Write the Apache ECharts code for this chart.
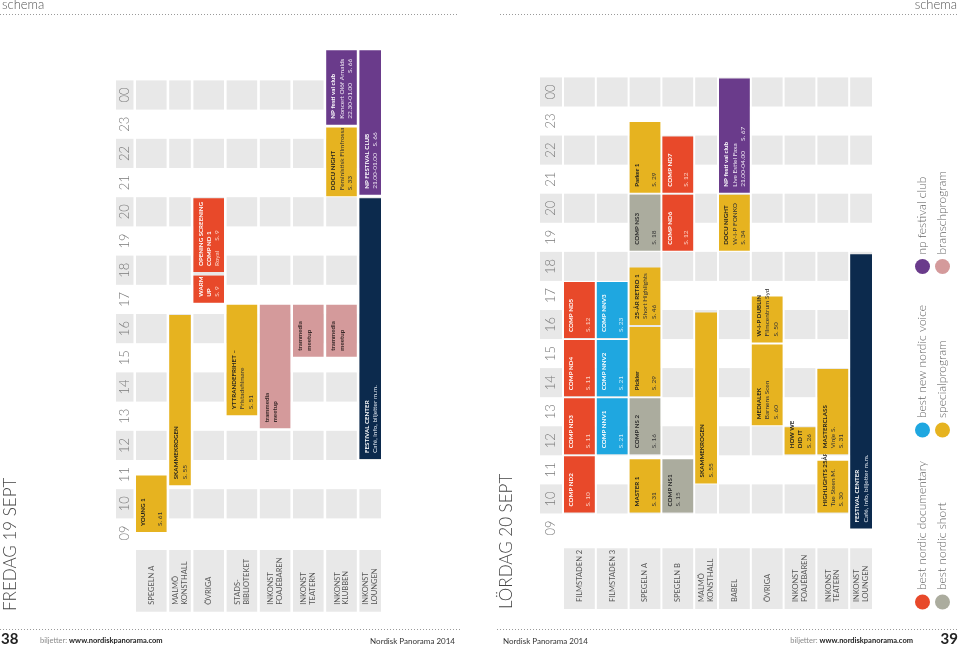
<!DOCTYPE html>
<html><head><meta charset="utf-8">
<script src="https://cdn.jsdelivr.net/npm/echarts@6/dist/echarts.min.js"></script>
<style>html,body{margin:0;padding:0;background:#fff}#c{width:959px;height:646px}</style>
</head><body><div id="c"></div>
<script>
// ---------- DATA ----------
const HOURS = ['09','10','11','12','13','14','15','16','17','18','19','20','21','22','23','00'];
const FRI_TITLE = 'FREDAG 19 SEPT';
const SAT_TITLE = 'LÖRDAG 20 SEPT';
const FRI_VENUES = ['SPEGELN A','MALMÖ\nKONSTHALL','ÖVRIGA','STADS-\nBIBLIOTEKET','INKONST\nFOAJÉBAREN','INKONST\nTEATERN','INKONST\nKLUBBEN','INKONST\nLOUNGEN'];
const SAT_VENUES = ['FILMSTADEN 2','FILMSTADEN 3','SPEGELN A','SPEGELN B','MALMÖ\nKONSTHALL','BABEL','ÖVRIGA','INKONST\nFOAJÉBAREN','INKONST\nTEATERN','INKONST\nLOUNGEN'];
// [venue index, start hour, end hour, programme, title, details]
const FRI_EVENTS = [
  [0, 9.5, 11.5, 'special', 'YOUNG 1', '\nS. 61'],
  [1, 11.1, 17.0, 'special', 'SKAMMEKROGEN', 'S. 55'],
  [2, 17.35, 18.35, 'doc', 'WARM\nUP', 'S. 9'],
  [2, 18.4, 21.0, 'doc', 'OPENING SCREENING\nCOMP ND 1', 'Royal      S. 9'],
  [3, 13.5, 17.35, 'special', 'YTTRANDEFRIHET –', 'Fristadsfilmare\nS. 51'],
  [4, 13.05, 17.35, 'bransch', 'trammedia\nmeetup', ''],
  [5, 15.5, 17.35, 'bransch', 'trammedia\nmeetup', ''],
  [6, 15.5, 17.35, 'bransch', 'trammedia\nmeetup', ''],
  [6, 21.0, 23.42, 'special', 'DOCU NIGHT', 'Feministisk Filmfrossa\nS. 33'],
  [6, 23.45, 26.07, 'club', 'NP festi val club', 'Koncert Olöf Arnalds\n22.30-01.00      S. 66'],
  [7, 12.0, 21.0, 'center', 'FESTIVAL CENTER', 'Café, info, biljetter m.m.'],
  [7, 21.05, 26.07, 'club', 'NP FESTIVAL CLUB', '21.00-01.00    S. 66']
];
const SAT_EVENTS = [
  [0, 10, 12, 'doc', 'COMP ND2', '\nS. 10'],
  [0, 12, 14, 'doc', 'COMP ND3', '\nS. 11'],
  [0, 14, 16, 'doc', 'COMP ND4', '\nS. 11'],
  [0, 16, 18, 'doc', 'COMP ND5', '\nS. 12'],
  [1, 12, 14, 'nnv', 'COMP NNV1', '\nS. 21'],
  [1, 14, 16, 'nnv', 'COMP NNV2', '\nS. 21'],
  [1, 16, 18, 'nnv', 'COMP NNV3', '\nS. 23'],
  [2, 10, 11.9, 'special', 'MASTER 1', '\nS. 31'],
  [2, 12, 14, 'short', 'COMP NS 2', '\nS. 16'],
  [2, 14, 16.45, 'special', 'Pickler', '\nS. 29'],
  [2, 16.45, 18.5, 'special', '25-ÅR RETRO 1', 'Short Highlights\nS. 46'],
  [2, 19, 21, 'short', 'COMP NS3', '\nS. 18'],
  [2, 21, 23.5, 'special', 'Parker 1', '\nS. 29'],
  [3, 10, 11.9, 'short', 'COMP NS1', 'S. 15'],
  [3, 19, 21, 'doc', 'COMP ND6', '\nS. 12'],
  [3, 21, 23, 'doc', 'COMP ND7', '\nS. 12'],
  [4, 11, 16.95, 'special', 'SKAMMEKROGEN', 'S. 55'],
  [5, 19, 21, 'special', 'DOCU NIGHT', 'W-I-P FONKO\nS. 34'],
  [5, 21, 25, 'club', 'NP festi val club', 'Live Estiel Faxa\n21.00-04.00      S. 67'],
  [6, 13, 15.85, 'special', 'MEDIALEK', 'Barnens Scen\nS. 60'],
  [6, 15.85, 17.5, 'special', 'W-I-P DUBLIN', 'Filmcentrum Syd\nS. 50'],
  [7, 12, 13, 'special', 'HOW WE\nDID IT', 'S. 26'],
  [8, 10, 11.85, 'special', 'HIGHLIGHTS 25ÅR', 'Tue Steen M.\nS. 30'],
  [8, 12, 15, 'special', 'MASTERCLASS', 'Vinje S.\nS. 31'],
  [9, 9.45, 18.95, 'center', 'FESTIVAL CENTER', 'Café, info, biljetter m.m.']
];
const LEGEND_NAMES = ['best nordic documentary','best nordic short','best new nordic voice','specialprogram','np festival club','branschprogram'];
const LEGEND_TYPES = ['doc','short','nnv','special','club','bransch'];

// ---------- STYLE / LAYOUT ----------
const STYLE = {
  doc:     {fill:'#e8492a', title:'#ffffff', text:'#fbd3c6'},
  short:   {fill:'#abac9e', title:'#2b2b2b', text:'#3a3a3a'},
  nnv:     {fill:'#1fa7e0', title:'#ffffff', text:'#d2eefa'},
  special: {fill:'#e6b320', title:'#1e1e1e', text:'#333333'},
  club:    {fill:'#6a3b8b', title:'#ffffff', text:'#eee6f3'},
  bransch: {fill:'#d49a9b', title:'#3a2a2a', text:'#3a2a2a'},
  center:  {fill:'#0c2a4d', title:'#ffffff', text:'#dfe6ef'}
};
const CELL = '#e8e8e8';
const FONT = 'Lato';
const EV_PAD_X = 3, EV_PAD_Y = 6, EV_LH = 8.4, EV_FS_B = 6.2, EV_FS = 6.5;
const FRI_LAYOUT = {timeW:17.5, gapT:2.5, gap:2.6, widths:[30.6,21.6,30.6,30.6,30.6,30.6,30.6,21.6], cellT:[6.8, 8.92]};
const SAT_LAYOUT = {timeW:22, gapT:2, gap:2, widths:[30.8,30.8,30.8,30.8,21.8,30.8,30.8,30.8,30.8,21.8], cellT:[6.71, 8.8]};

function colRange(L, i) {
  if (i < 0) return [0, L.timeW];
  let x = L.timeW + L.gapT;
  for (let k = 0; k < i; k++) x += L.widths[k] + L.gap;
  return [x, x + L.widths[i]];
}
function vtext(x, y, text, o) {
  return {type:'text', x:x, y:y, rotation:Math.PI/2, silent:true,
    style:Object.assign({text:text, fontFamily:FONT, align:'left', verticalAlign:'top'}, o)};
}

function bgData(venues) {
  const d = [];
  for (let c = -1; c < venues.length; c++)
    for (let h = 1; h < HOURS.length; h += 2) d.push([c, h]);
  return d;
}
function bgRender(L) {
  return function (p, api) {
    const xr = colRange(L, api.value(0));
    const h = api.value(1);
    const a = api.coord([xr[0], 9 + h + 1]);
    const b = api.coord([xr[1], 9 + h]);
    return {type:'rect', silent:true, shape:{x:a[0], y:a[1], width:b[0]-a[0], height:b[1]-a[1]}, style:{fill:CELL}};
  };
}
function hourRender(L) {
  return function (p, api) {
    const i = api.value(0);
    const c = api.coord([L.timeW / 2, 9.5 + i]);
    return vtext(c[0], c[1], HOURS[i], {fill:'#7a7a7a', fontSize:13, fontWeight:300, align:'center', verticalAlign:'middle'});
  };
}
function venueRender(L, venues) {
  return function (p, api) {
    const i = api.value(0);
    const xr = colRange(L, i);
    const a = api.coord([xr[0], L.cellT[1]]);
    const b = api.coord([xr[1], L.cellT[0]]);
    return {type:'group', children:[
      {type:'rect', silent:true, shape:{x:a[0], y:a[1], width:b[0]-a[0], height:b[1]-a[1]}, style:{fill:CELL}},
      vtext((a[0]+b[0])/2, b[1]-7, venues[i], {fill:'#555', fontSize:7.5, lineHeight:8.5, verticalAlign:'middle'})
    ]};
  };
}
function eventRender(L, events) {
  return function (p, api) {
    const ev = events[p.dataIndex];
    const xr = colRange(L, ev[0]);
    const a = api.coord([xr[0], ev[2]]);
    const b = api.coord([xr[1], ev[1]]);
    const x = a[0], w = b[0]-a[0], y = a[1]+1, h = b[1]-a[1]-2;
    const st = STYLE[ev[3]];
    const ch = [{type:'rect', shape:{x:x, y:y, width:w, height:h}, style:{fill:st.fill}}];
    const tx = x + EV_PAD_X, ty = y + h - EV_PAD_Y;
    const n = ev[4] ? ev[4].split('\n').length : 0;
    if (ev[4]) ch.push(vtext(tx, ty, ev[4], {fill:st.title, fontSize:EV_FS_B, fontWeight:'bold', lineHeight:EV_LH}));
    if (ev[5]) ch.push(vtext(tx + n*EV_LH, ty, ev[5], {fill:st.text, fontSize:EV_FS, lineHeight:EV_LH}));
    return {type:'group', children:ch};
  };
}

function pageSeries(idx, L, venues, events) {
  const base = {type:'custom', coordinateSystem:'cartesian2d', xAxisIndex:idx, yAxisIndex:idx, animation:false, encode:{x:0, y:1}};
  return [
    Object.assign({}, base, {name:'cells'+idx, data:bgData(venues), renderItem:bgRender(L), z:1}),
    Object.assign({}, base, {name:'hours'+idx, data:HOURS.map((h,i)=>[i, 9.5+i]), renderItem:hourRender(L), z:2}),
    Object.assign({}, base, {name:'venues'+idx, data:venues.map((v,i)=>[i, 7.5]), renderItem:venueRender(L, venues), z:2}),
    Object.assign({}, base, {name:'events'+idx, data:events.map(e=>[e[0], e[1], e[2]]), encode:{x:0, y:[1,2]}, renderItem:eventRender(L, events), z:3})
  ];
}

function legendGraphics() {
  const g = [];
  const rowsX = [922.5, 942.5], groupsY = [602, 430, 266.5];
  LEGEND_NAMES.forEach((name, i) => {
    const cx = rowsX[i % 2], cy = groupsY[Math.floor(i / 2)];
    g.push({type:'circle', shape:{cx:cx, cy:cy, r:7.5}, style:{fill:STYLE[LEGEND_TYPES[i]].fill}});
    g.push({type:'text', x:cx, y:cy - 12, rotation:Math.PI/2,
      style:{text:name, fontFamily:FONT, fontWeight:300, fontSize:12, fill:'#666', align:'left', verticalAlign:'middle'}});
  });
  return g;
}
function dots(x1, x2, y) {
  return {type:'line', shape:{x1:x1, y1:y, x2:x2, y2:y}, style:{stroke:'#9a9a9a', lineWidth:1, lineDash:[1,2]}};
}

const chart = echarts.init(document.getElementById('c'), null, {renderer:'canvas'});
const hiddenX = (L) => ({type:'value', min:0, max:colRange(L, L.widths.length-1)[1], show:false});
chart.setOption({
  animation:false,
  grid:[
    {left:116, top:22.0, width:colRange(FRI_LAYOUT, 7)[1], height:598.6},
    {left:540, top:19.3, width:colRange(SAT_LAYOUT, 9)[1], height:595.9}
  ],
  xAxis:[Object.assign({gridIndex:0}, hiddenX(FRI_LAYOUT)), Object.assign({gridIndex:1}, hiddenX(SAT_LAYOUT))],
  yAxis:[
    {gridIndex:0, type:'value', min:6.5, max:27, show:false},
    {gridIndex:1, type:'value', min:6.5, max:27, show:false}
  ],
  series:[].concat(pageSeries(0, FRI_LAYOUT, FRI_VENUES, FRI_EVENTS), pageSeries(1, SAT_LAYOUT, SAT_VENUES, SAT_EVENTS)),
  graphic:[
    {type:'text', x:2, y:5, style:{text:'schema', fontFamily:FONT, fontWeight:300, fontSize:13, fill:'#555', verticalAlign:'middle'}},
    {type:'text', x:957, y:5, style:{text:'schema', fontFamily:FONT, fontWeight:300, fontSize:13, fill:'#555', align:'right', verticalAlign:'middle'}},
    dots(0, 458, 14.5), dots(500, 959, 14.5),
    dots(0, 460, 629.5), dots(497, 959, 629.5),
    {type:'text', x:10.5, y:611, rotation:Math.PI/2, style:{text:FRI_TITLE, fontFamily:FONT, fontWeight:300, fontSize:17, fill:'#444', align:'left', verticalAlign:'middle'}},
    {type:'text', x:506.5, y:609, rotation:Math.PI/2, style:{text:SAT_TITLE, fontFamily:FONT, fontWeight:300, fontSize:17, fill:'#444', align:'left', verticalAlign:'middle'}},
    {type:'text', x:1, y:639, style:{text:'38', fontFamily:FONT, fontWeight:'bold', fontSize:15, fill:'#222', verticalAlign:'middle'}},
    {type:'text', x:958, y:639, style:{text:'39', fontFamily:FONT, fontWeight:'bold', fontSize:15, fill:'#222', align:'right', verticalAlign:'middle'}},
    {type:'text', x:40, y:641, style:{text:'{a|biljetter: }{b|www.nordiskpanorama.com}', verticalAlign:'middle',
      rich:{a:{fontFamily:FONT, fontSize:7.5, fill:'#8a8a8a'}, b:{fontFamily:FONT, fontSize:7.5, fontWeight:'bold', fill:'#222'}}}},
    {type:'text', x:913, y:641, style:{text:'{a|biljetter: }{b|www.nordiskpanorama.com}', align:'right', verticalAlign:'middle',
      rich:{a:{fontFamily:FONT, fontSize:7.5, fill:'#8a8a8a'}, b:{fontFamily:FONT, fontSize:7.5, fontWeight:'bold', fill:'#222'}}}},
    {type:'text', x:455, y:641, style:{text:'Nordisk Panorama 2014', fontFamily:FONT, fontSize:8, fill:'#333', align:'right', verticalAlign:'middle'}},
    {type:'text', x:503, y:641, style:{text:'Nordisk Panorama 2014', fontFamily:FONT, fontSize:8, fill:'#333', align:'left', verticalAlign:'middle'}}
  ].concat(legendGraphics())
});
</script>
</body></html>
